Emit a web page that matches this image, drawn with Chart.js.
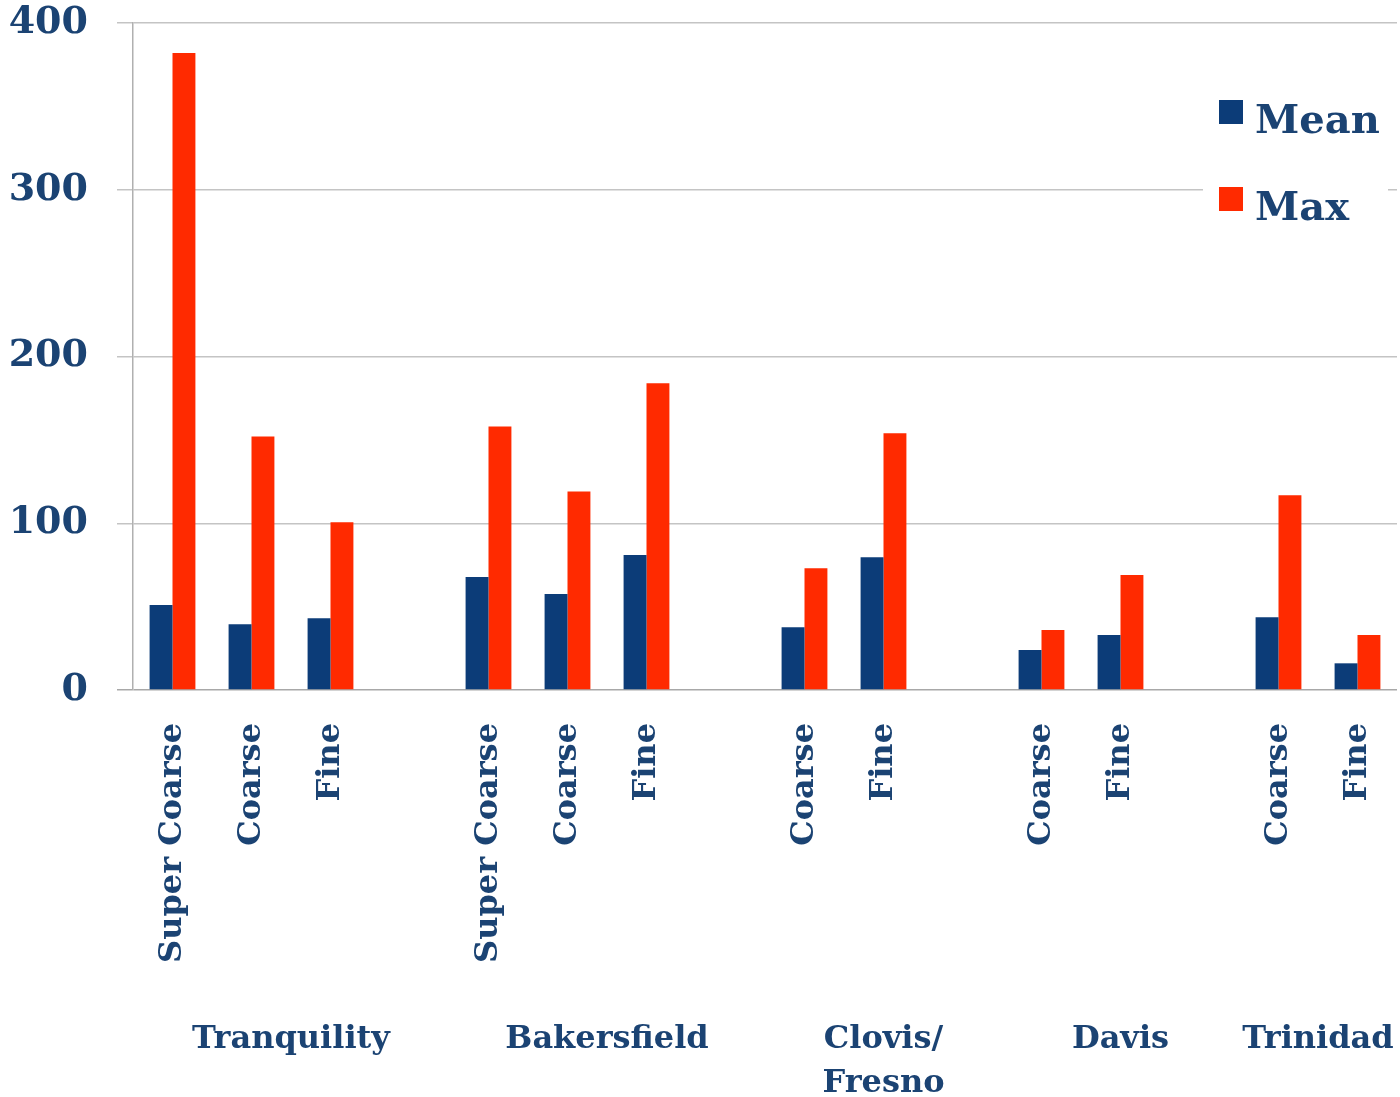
<!DOCTYPE html>
<html>
<head>
<meta charset="utf-8">
<script src="https://cdn.jsdelivr.net/npm/chart.js@4.4.1/dist/chart.umd.min.js"></script>
<style>
  html, body { margin: 0; padding: 0; background: #fff; }
  #wrap { width: 1400px; height: 1097px; position: relative; }
</style>
</head>
<body>
<div id="wrap"><canvas id="chart"></canvas></div>
<script>
// Data (blank slots are the gaps between sites)
const categories = [
  'Super Coarse', 'Coarse', 'Fine', '',
  'Super Coarse', 'Coarse', 'Fine', '',
  'Coarse', 'Fine', '',
  'Coarse', 'Fine', '',
  'Coarse', 'Fine'
];
const meanValues = [51, 39.5, 43, null, 67.7, 57.5, 81, null, 37.7, 79.6, null, 24, 33, null, 43.7, 16];
const maxValues = [382, 152, 100.6, null, 158, 119, 184, null, 73, 154, null, 36, 69, null, 116.8, 33];
const groupNames = [['Tranquility'], ['Bakersfield'], ['Clovis/', 'Fresno'], ['Davis'], ['Trinidad']];
const groupAnchors = [1.5, 5.5, 9, 12, 14.5];   // category index each site name sits under
const yTicks = [0, 100, 200, 300, 400];

const TEXT = '#1b4373';
const BLUE = '#0c3c78';
const RED = '#ff2a00';
const FONT = 'DejaVu Serif';

// site names under the rotated size labels
const groupLabels = {
  id: 'groupLabels',
  afterDraw(chart) {
    const ctx = chart.ctx;
    const x = chart.scales.x;
    ctx.save();
    ctx.font = `bold 32px "${FONT}"`;
    ctx.fillStyle = TEXT;
    ctx.textAlign = 'center';
    ctx.textBaseline = 'alphabetic';
    groupNames.forEach((lines, i) => {
      const px = x.getPixelForValue(groupAnchors[i]);
      lines.forEach((line, j) => ctx.fillText(line, px, 1048 + j * 44));
    });
    ctx.restore();
  }
};

// legend box in the top right corner, over the grid
const cornerLegend = {
  id: 'cornerLegend',
  afterDatasetsDraw(chart) {
    const ctx = chart.ctx;
    ctx.save();
    ctx.fillStyle = '#fff';
    ctx.fillRect(1203, 85, 185, 145);
    ctx.font = `bold 40px "${FONT}"`;
    ctx.textBaseline = 'alphabetic';
    chart.data.datasets.forEach((ds, i) => {
      const top = 100 + i * 87;
      ctx.fillStyle = ds.backgroundColor;
      ctx.fillRect(1219, top, 24, 24);
      ctx.fillStyle = TEXT;
      ctx.fillText(ds.label, 1255, top + 33);
    });
    ctx.restore();
  }
};

new Chart(document.getElementById('chart'), {
  type: 'bar',
  data: {
    labels: categories,
    datasets: [
      { label: 'Mean', data: meanValues, backgroundColor: BLUE },
      { label: 'Max', data: maxValues, backgroundColor: RED }
    ]
  },
  options: {
    responsive: true,
    maintainAspectRatio: false,
    animation: false,
    datasets: { bar: { categoryPercentage: 0.58, barPercentage: 1.0 } },
    layout: { padding: { top: 23, right: 3, left: 0, bottom: 0 } },
    plugins: {
      legend: { display: false },
      tooltip: { enabled: false }
    },
    scales: {
      x: {
        afterFit(scale) {
          scale.height = 407;
          scale.paddingLeft = 0;
          scale.paddingRight = 0;
        },
        grid: { display: false },
        border: { display: false },
        ticks: {
          autoSkip: false,
          minRotation: 90,
          maxRotation: 90,
          padding: 25,
          color: TEXT,
          font: { family: FONT, size: 32, weight: 'bold' }
        }
      },
      y: {
        min: 0,
        max: 400,
        afterFit(scale) {
          scale.width = 133;
          scale.paddingTop = 0;
          scale.paddingBottom = 0;
        },
        afterBuildTicks(scale) { scale.ticks = yTicks.map(v => ({ value: v })); },
        grid: {
          color: ctx => ctx.tick && ctx.tick.value === 0 ? '#a8a8a8' : '#c4c4c4',
          lineWidth: 1.5,
          tickLength: 16
        },
        border: { display: true, color: '#b0b0b0', width: 1.5 },
        ticks: {
          padding: 29,
          color: TEXT,
          font: { family: FONT, size: 38, weight: 'bold' }
        }
      }
    }
  },
  plugins: [groupLabels, cornerLegend]
});
</script>
</body>
</html>
